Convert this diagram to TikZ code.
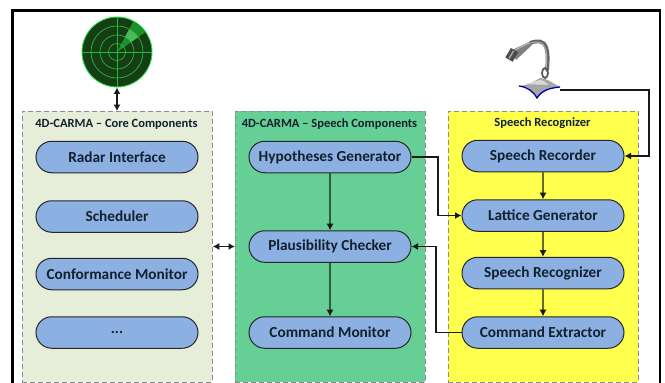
\documentclass[tikz,border=0pt]{standalone}
\usepackage{fontspec}
\setmainfont{Carlito}
\usetikzlibrary{arrows.meta,shapes.misc,calc}
\definecolor{pill}{HTML}{8CB0E2}
\definecolor{corebg}{HTML}{E6EDD8}
\definecolor{speechbg}{HTML}{66CF96}
\definecolor{recbg}{HTML}{FFFF4D}
\definecolor{radarbg}{HTML}{173D17}
\definecolor{radarln}{HTML}{22E040}
\definecolor{txt}{HTML}{13202E}
\tikzset{
  x=1pt,y=-1pt,
  pillbox/.style={draw=black!85,line width=1pt,fill=pill,rounded rectangle,minimum width=162pt,minimum height=31.5pt,inner sep=0pt,font=\fontsize{15.3}{17}\selectfont\bfseries,text=txt},
  groupbox/.style={draw=black!45,dashed,dash pattern=on 5pt off 3pt,line width=0.8pt,anchor=north west,minimum width=190pt,minimum height=271pt,inner sep=0pt},
  grouptitle/.style={font=\fontsize{12.5}{14}\selectfont\bfseries,text=txt,inner sep=0pt},
  flow/.style={draw=black!90,line width=1.1pt,-{Latex[length=6.5pt,width=7pt]}},
  both/.style={draw=black!90,line width=1.1pt,{Latex[length=6.5pt,width=7pt]}-{Latex[length=6.5pt,width=7pt]}},
}
\begin{document}
\begin{tikzpicture}
\useasboundingbox (0,0) rectangle (665,383);
\clip (0,0) rectangle (665,383);
\fill[white] (0,0) rectangle (665,383);
\draw[black,line width=2.2pt] (12.5,395) -- (12.5,10.5) -- (660,10.5) -- (660,395);
% group boxes
\node[groupbox,fill=corebg] (core) at (22,111) {};
\node[groupbox,fill=speechbg] (speech) at (235,111) {};
\node[groupbox,fill=recbg] (rec) at (448,110.5) {};
\node[grouptitle] (coreT) at (116.5,124) {4D-CARMA – Core Components};
\node[grouptitle] (speechT) at (329.5,124) {4D-CARMA – Speech Components};
\node[grouptitle] (recT) at (542.5,123) {Speech Recognizer};
% pills
\node[pillbox] (radarI) at (117,157) {Radar Interface};
\node[pillbox] (sched) at (117,216.5) {Scheduler};
\node[pillbox] (conf) at (117,274) {Conformance Monitor};
\node[pillbox] (dots) at (117,332.5) {...};
\node[pillbox] (hyp) at (330,157) {Hypotheses Generator};
\node[pillbox] (plaus) at (330,246.5) {Plausibility Checker};
\node[pillbox] (cmdm) at (330,332.5) {Command Monitor};
\node[pillbox] (recd) at (543,156) {Speech Recorder};
\node[pillbox] (latt) at (543,215.5) {Lattice Generator};
\node[pillbox] (srec) at (543,273) {Speech Recognizer};
\node[pillbox] (cext) at (543,332.5) {Command Extractor};
% radar
\node[circle,draw=radarln,line width=0.9pt,fill=radarbg,minimum size=70pt,inner sep=0pt] (radar) at (117,52) {};
\fill[radarln!50!radarbg] (117,52) -- ($(117,52)+(62:34.5pt)$) arc[start angle=62,end angle=35,radius=34.5pt] -- cycle;
\fill[white!45!radarln,opacity=.45] ($(117,52)+(62:17pt)$) -- ($(117,52)+(62:26pt)$) arc[start angle=62,end angle=35,radius=26pt] -- ($(117,52)+(35:17pt)$) arc[start angle=35,end angle=62,radius=17pt] -- cycle;
\begin{scope}[draw=radarln!85!black,line width=0.7pt]
\draw (82,52) -- (152,52);
\draw (117,17) -- (117,87);
\draw (117,52) circle[radius=8.5pt];
\draw (117,52) circle[radius=17pt];
\draw (117,52) circle[radius=26pt];
\end{scope}
% microphone
\node[inner sep=0pt,minimum width=42pt,minimum height=20pt] (mic) at (539,90) {};
\fill[gray!70] (519,86) .. controls (530,85) and (536,80) .. (540,78) .. controls (546,78) and (553,83) .. (560,87) .. controls (550,88) and (542,90) .. (537,98) .. controls (533,91) and (527,87) .. (519,86) -- cycle;
\fill[gray!30] (526,84) .. controls (532,83) and (537,80) .. (541,80) .. controls (544,80) and (546,83) .. (548,85) .. controls (540,84) and (532,85) .. (526,84) -- cycle;
\draw[blue!65!black,line width=1.3pt] (519,86) .. controls (527,87) and (533,91) .. (537,98) .. controls (542,90) and (550,88) .. (560,87);
\draw[black!60,line width=3.8pt,line cap=round] (547,70) .. controls (548,60) and (548,52) .. (546,47) .. controls (544,41) and (538,40) .. (530,43);
\draw[black!30,line width=1pt] (546,70) .. controls (547,60) and (547,52) .. (545,47.5) .. controls (543,42) and (538,41) .. (531,43);
\draw[black!65,line width=1.8pt] (545,73) ellipse[x radius=3pt,y radius=5pt];
\fill[black!50] (530,41.5) -- (532,45) -- (516,60) -- (512,50) -- cycle;
\draw[black!25,line width=1pt] (513,51) -- (530,42.5);
\fill[black!70,rotate around={-30:(512,55)}] (507.5,49.5) rectangle (516,60.5);
\fill[black!35,rotate around={-30:(512,55)}] (510.5,50.5) rectangle (512,59.5);
% connectors
\draw[both] (radar) -- (core.north -| radar);
\draw[both] (core.east |- plaus) -- (speech.west |- plaus);
\draw[flow] (hyp) -- (plaus);
\draw[flow] (plaus) -- (cmdm);
\draw[flow] (recd) -- (latt);
\draw[flow] (latt) -- (srec);
\draw[flow] (srec) -- (cext);
\draw[flow] (hyp.east) -- (438,157) -- (438,215.5) -- (latt.west);
\draw[flow] (cext.west) -- (436,332.5) -- (436,246.5) -- (plaus.east);
\draw[flow] (mic.east) -- (649,90) -- (649,156) -- (recd.east);
\end{tikzpicture}
\end{document}
